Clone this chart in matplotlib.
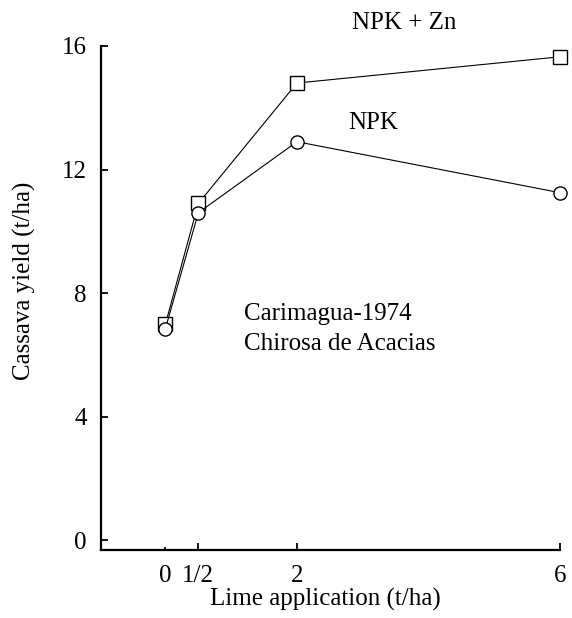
import matplotlib
matplotlib.use("Agg")
import matplotlib.pyplot as plt

plt.rcParams['font.family'] = ['Liberation Serif', 'DejaVu Serif']

# lime rate (t/ha) and cassava yield (t/ha)
lime = [0, 0.5, 2, 6]
npk_zn = [7.0, 10.9, 14.8, 15.65]
npk = [6.85, 10.6, 12.9, 11.25]

xtick_pos = [0, 0.5, 2, 6]
xtick_lbl = ['0', '1/2', '2', '6']
ytick_pos = [0, 4, 8, 12, 16]

fig = plt.figure(figsize=(5.72, 6.18), dpi=100)
ax = fig.add_axes([0.176, 0.110, 0.803, 0.8156])

ax.plot(lime, npk_zn, color='black', lw=0.8, marker='s', ms=10,
        mfc='white', mec='black', mew=1.0, clip_on=False, zorder=3)
ax.plot(lime, npk, color='black', lw=0.8, marker='o', ms=9.5,
        mfc='white', mec='black', mew=1.0, clip_on=False, zorder=3)

ax.set_xlim(-0.985, 6)
ax.set_ylim(-0.32, 16)

ax.spines['top'].set_visible(False)
ax.spines['right'].set_visible(False)
ax.spines['left'].set_linewidth(1.6)
ax.spines['bottom'].set_linewidth(1.6)

ax.set_xticks(xtick_pos)
ax.set_xticklabels(xtick_lbl)
ax.set_yticks(ytick_pos)
ax.tick_params(axis='both', direction='in', labelsize=18, width=1.3)
ax.tick_params(axis='x', length=5, pad=11)
ax.tick_params(axis='y', length=5, pad=10)
ax.xaxis.get_major_ticks()[0].tick1line.set_markersize(2)

ax.set_xlabel('Lime application (t/ha)', fontsize=18)
ax.xaxis.label.set_va('center')
ax.xaxis.set_label_coords(0.49, -0.099)
ax.set_ylabel('Cassava yield (t/ha)', fontsize=18)
ax.yaxis.label.set_va('center')
ax.yaxis.set_label_coords(-0.165, 0.534)

ax.text(2.84, 16.75, 'NPK + Zn', fontsize=18, ha='left', va='center')
ax.text(2.78, 13.5, 'NPK', fontsize=18, ha='left', va='center')
ax.text(1.19, 7.33, 'Carimagua-1974', fontsize=18, ha='left', va='center')
ax.text(1.19, 6.36, 'Chirosa de Acacias', fontsize=18, ha='left', va='center')

fig.savefig('out.png', dpi=100)
